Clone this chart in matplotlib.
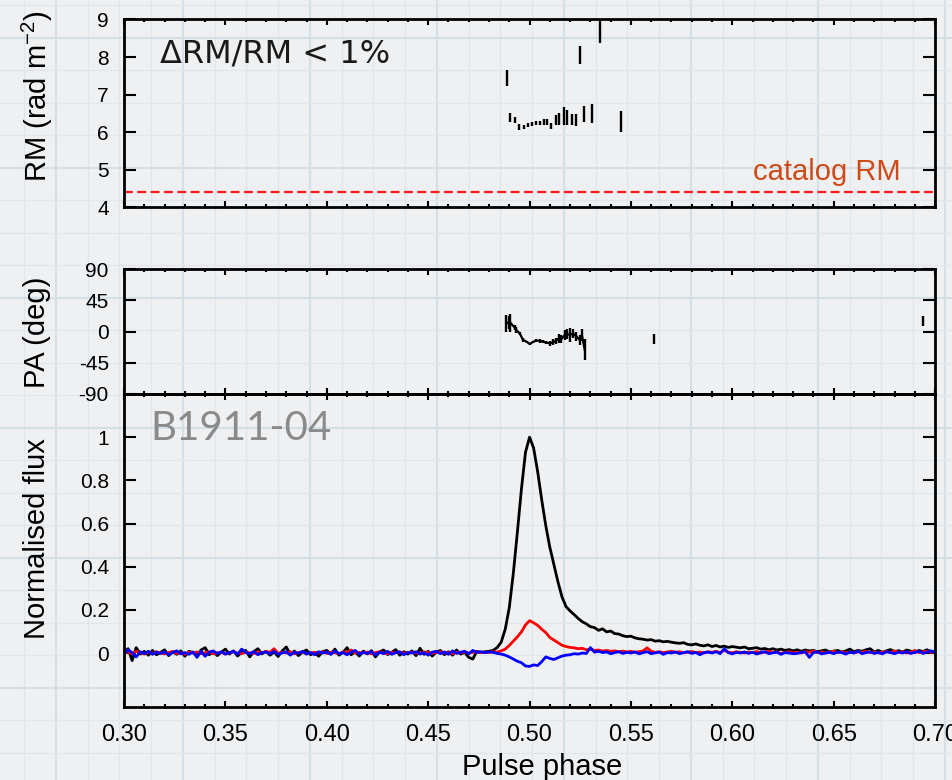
import numpy as np
import matplotlib.pyplot as plt
from matplotlib.ticker import MultipleLocator

plt.rcParams['font.family'] = ['Liberation Sans', 'DejaVu Sans']
plt.rcParams['mathtext.default'] = 'regular'

# profile phase grid (0.002 bins)
phase = np.arange(201) * 0.002 + 0.300

# total intensity (x1000)
flux_I = [5, 20, -35, 25, -5, 8, -10, 12, -8, 3,
          15, -12, 5, -6, 10, -15, 8, 2, -10, 14,
          25, -8, 6, -12, 4, 18, -5, 10, -14, 3,
          12, -18, 6, 20, -4, 8, -10, 5, -16, 10,
          28, -6, 9, -12, 4, 14, -8, 2, -15, 7,
          12, -5, 18, -10, 3, 25, -8, 6, -14, 9,
          -4, 11, -18, 5, 14, -7, 3, 16, -10, 6,
          -5, 10, -12, 22, -6, 8, -14, 4, 12, -8,
          6, -10, 14, -5, 3, -20, -28, 8, 2, 6,
          8, 12, 25, 50, 110, 210, 370, 560, 760, 930,
          1000, 950, 840, 710, 590, 490, 410, 330, 260, 215,
          195, 178, 160, 145, 135, 122, 118, 105, 112, 98,
          102, 90, 88, 80, 76, 78, 70, 66, 64, 60,
          62, 55, 57, 52, 54, 50, 47, 45, 48, 40,
          38, 42, 36, 33, 38, 30, 35, 28, 32, 26,
          30, 27, 24, 28, 20, 22, 25, 18, 21, 15,
          20, 14, 18, 12, 16, 10, 15, 8, 14, 10,
          12, 6, 10, 14, 5, 9, 12, 4, 10, 18,
          6, 12, 8, 15, 20, 5, 12, 3, 10, 16,
          6, 11, 4, 14, 9, 2, 12, 7, 15, 5,
          10]

# linear polarisation (x1000)
flux_L = [0, 5, -3, 8, 2, -5, 4, -2, 6, 0,
          -4, 3, 7, -2, 1, -6, 4, 0, 5, -3,
          2, 6, -4, 1, 3, -5, 2, 6, 0, -3,
          4, 1, -2, 5, 0, 8, 3, 20, -2, 4,
          0, 6, -3, 2, 5, -4, 1, 3, 0, 6,
          -2, 4, 1, -3, 5, 2, 14, -1, 3, 0,
          5, -4, 2, 6, 0, -3, 3, 1, 5, -2,
          2, 4, 0, -3, 5, 2, -2, 3, 6, 0,
          2, -3, 4, 1, 5, 0, 3, 6, 2, 4,
          3, 6, 4, 10, 18, 35, 55, 75, 98, 130,
          150, 140, 128, 110, 95, 72, 60, 48, 36, 30,
          26, 24, 20, 22, 15, 18, 12, 14, 9, 12,
          8, 10, 6, 9, 5, 8, 4, 6, 10, 24,
          8, 3, 6, 2, 5, 8, 3, 6, 1, 4,
          7, 2, 5, 0, 6, 3, 8, 2, 12, 4,
          1, 6, 3, 0, 5, 2, 7, 0, 4, 8,
          2, 5, -2, 3, 6, 1, 4, 0, 7, 3,
          10, 2, 5, 0, 4, 8, 2, 6, 0, 4,
          1, 6, 3, 8, 2, 5, 0, 4, 7, 2,
          10, 3, 6, 0, 4, 12, 2, 5, 8, 3,
          6]

# circular polarisation (x1000)
flux_V = [-5, 15, 2, -18, 6, -3, 8, -6, 4, -2,
          6, -8, 3, 10, -4, 2, -6, 5, -20, 8,
          -15, 4, 10, -3, 6, -5, 2, 8, -6, 18,
          3, -4, 7, -8, 2, 5, -3, 8, -6, 0,
          6, -10, 4, -2, 8, -5, 3, -8, 6, 0,
          5, -6, 9, -3, 2, -8, 4, 12, -5, 3,
          -2, 7, -10, 4, -3, 8, -6, 2, 5, -8,
          3, 0, 6, -5, 2, -10, 4, 8, -3, 5,
          -6, 10, -2, 4, 8, -4, 12, 3, 6, 2,
          5, 3, -2, -5, -10, -18, -28, -38, -45, -60,
          -62, -55, -58, -40, -18, -25, -30, -22, -14, -10,
          -8, -3, -5, 0, -2, 25, 4, 8, 2, 5,
          -3, 2, 6, -2, 3, 0, 5, -4, 2, 6,
          -3, 1, 4, -6, 2, 0, 5, -3, 2, 6,
          -2, 3, -8, 2, 4, 0, 6, -3, 20, 2,
          -4, 3, 0, 5, -2, 4, -5, 2, 6, -3,
          1, 4, -6, 2, 0, -3, -2, 3, 5, -20,
          2, 6, -4, 0, 3, -3, 5, 2, -5, 4,
          0, 8, -3, 2, 5, -2, 3, -4, 6, 2,
          -3, 4, 0, 6, -2, 3, 8, -2, 4, 10,
          2]

# rotation measure per bin
rm_phase = [0.4889, 0.4906, 0.4930, 0.4948, 0.4971, 0.4993, 0.5012, 0.5032, 0.5052,
            0.5071, 0.5088, 0.5108, 0.5128, 0.5147, 0.5168, 0.5187, 0.5209, 0.5231,
            0.5247, 0.5268, 0.5308, 0.5349, 0.5449]
rm_val = [7.44, 6.39, 6.32, 6.13, 6.13, 6.18, 6.21, 6.24, 6.25,
          6.27, 6.26, 6.16, 6.33, 6.35, 6.43, 6.39, 6.33, 6.32,
          8.05, 6.48, 6.49, 8.67, 6.29]
rm_err = [0.21, 0.13, 0.09, 0.08, 0.06, 0.05, 0.05, 0.05, 0.05,
          0.07, 0.08, 0.09, 0.13, 0.16, 0.23, 0.20, 0.15, 0.16,
          0.24, 0.21, 0.26, 0.29, 0.28]
catalog_rm = 4.4

# position angle
pa_phase = [0.4886, 0.4898, 0.4906, 0.4927, 0.4935, 0.4951, 0.4968, 0.4985, 0.5001,
            0.5017, 0.5033, 0.5050, 0.5066, 0.5083, 0.5100, 0.5116, 0.5132, 0.5144,
            0.5157, 0.5173, 0.5186, 0.5198, 0.5214, 0.5231, 0.5247, 0.5258, 0.5272,
            0.5612, 0.6939]
pa_val = [12, 13, 12.5, 5.5, 2, -2.6, -12, -14.7, -18,
          -15, -13, -13.5, -14.5, -16, -17, -15.5, -13, -10,
          -11, -5, -3.5, -5, -3, -7, -12, -5, -26,
          -11, 15]
pa_err = [12, 9, 12.5, 3.5, 4.8, 2.4, 2.5, 1.5, 1.8,
          1.8, 2.5, 2.5, 2.2, 2.5, 3.5, 4, 4.3, 6.5,
          5.8, 7, 7, 10.5, 7, 7, 7, 8, 15,
          7, 7]

fig = plt.figure(figsize=(9.52, 7.80), dpi=100)
fig.patch.set_facecolor('#eff0f2')

# graph paper background
bg = fig.add_axes([0, 0, 1, 1], zorder=-5)
bg.set_xlim(0, 952)
bg.set_ylim(780, 0)
bg.axis('off')
for k, gx in enumerate(np.arange(24, 952, 31.75)):
    bg.axvline(gx, color='#d5dfe6' if k % 4 == 1 else '#e0e6eb', lw=1.6 if k % 4 == 1 else 1.0)
for k, gy in enumerate(np.arange(5, 780, 32.5)):
    bg.axhline(gy, color='#d5dfe6' if k % 4 == 1 else '#e0e6eb', lw=1.6 if k % 4 == 1 else 1.0)

ax1 = fig.add_axes([0.1303, 0.7346, 0.8519, 0.2404])
ax2 = fig.add_axes([0.1303, 0.4949, 0.8519, 0.1602])
ax3 = fig.add_axes([0.1303, 0.0936, 0.8519, 0.4013])

for ax in (ax1, ax2, ax3):
    ax.patch.set_alpha(0)
    ax.set_xlim(0.30, 0.70)
    ax.xaxis.set_major_locator(MultipleLocator(0.05))
    ax.xaxis.set_minor_locator(MultipleLocator(0.01))
    ax.tick_params(axis='both', which='both', direction='in', top=True, right=True, width=1.5)
    ax.tick_params(axis='x', which='major', length=4.5, pad=12, labelsize=17)
    ax.tick_params(axis='x', which='minor', length=2.5)
    ax.tick_params(axis='y', which='major', length=8.5, pad=11, labelsize=15)
    ax.tick_params(axis='y', which='minor', left=False, right=False)
    for s in ax.spines.values():
        s.set_linewidth(2)

# RM panel
ax1.errorbar(rm_phase, rm_val, yerr=rm_err, fmt='none', ecolor='black', elinewidth=1.7, capsize=0)
ax1.axhline(catalog_rm, color='#ff1a1a', ls=(0, (4, 2)), lw=1.6)
ax1.set_ylim(4, 9)
ax1.set_yticks([4, 5, 6, 7, 8, 9])
ax1.tick_params(labelbottom=False)
ax1.text(0.044, 0.77, '\u0394RM/RM < 1%', transform=ax1.transAxes, fontsize=23,
         family=['DejaVu Sans'], color='#1a1a1a')
ax1.text(0.957, 0.145, 'catalog RM', transform=ax1.transAxes, fontsize=21,
         ha='right', color='#cf4a17')

# PA panel
ax2.errorbar(pa_phase, pa_val, yerr=pa_err, fmt='none', ecolor='black', elinewidth=1.7, capsize=0)
ax2.plot(pa_phase[:27], pa_val[:27], color='black', lw=1.6)
ax2.set_ylim(-90, 90)
ax2.set_yticks([-90, -45, 0, 45, 90])
ax2.set_yticklabels(['-90', '-45', '0', '45', '90'])
ax2.tick_params(labelbottom=False)

# profile panel
ax3.plot(phase, np.array(flux_I) / 1000, color='black', lw=2.0)
ax3.plot(phase, np.array(flux_L) / 1000, color='#ff0000', lw=2.0)
ax3.plot(phase, np.array(flux_V) / 1000, color='#0000ff', lw=2.0)
ax3.set_ylim(-0.25, 1.2)
ax3.set_yticks([0, 0.2, 0.4, 0.6, 0.8, 1])
ax3.set_yticklabels(['0', '0.2', '0.4', '0.6', '0.8', '1'])
ax3.set_xticklabels(['%.2f' % v for v in ax3.get_xticks()])
ax3.text(0.032, 0.853, 'B1911-04', transform=ax3.transAxes, fontsize=29,
         family=['Lato', 'DejaVu Sans'], color='#8a8a8a')

fig.text(37 / 952, 1 - 96 / 780, 'RM (rad m$^{-2}$)', rotation=90, ha='center', va='center', fontsize=21)
fig.text(37 / 952, 1 - 332 / 780, 'PA (deg)', rotation=90, ha='center', va='center', fontsize=21)
fig.text(37 / 952, 1 - 539 / 780, 'Normalised flux', rotation=90, ha='center', va='center', fontsize=21)
fig.text(542 / 952, 1 - 767 / 780, 'Pulse phase', ha='center', va='center', fontsize=21)

plt.savefig('out.png', dpi=100, facecolor=fig.get_facecolor())
